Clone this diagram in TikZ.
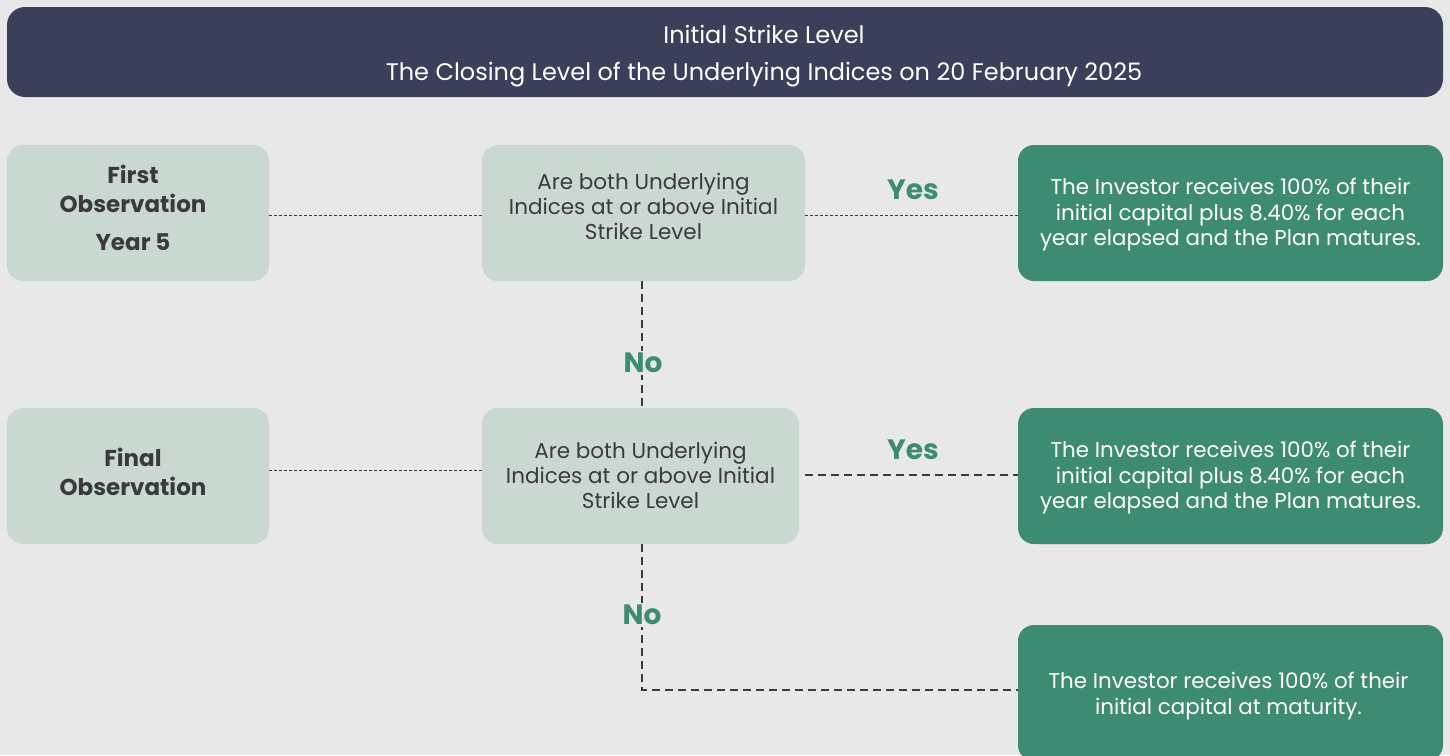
\documentclass[tikz,border=0pt]{standalone}
\usepackage{fontspec}
\setmainfont{Poppins}
\usetikzlibrary{positioning}

\definecolor{bgcol}{HTML}{E8E8E8}
\definecolor{navy}{HTML}{3A4059}
\definecolor{sage}{HTML}{C9D9D1}
\definecolor{teal}{HTML}{3E8B73}
\definecolor{ink}{HTML}{3A3A3A}

\begin{document}
\begin{tikzpicture}[
    x=1pt, y=-1pt,
    header/.style={
        fill=navy,
        rounded corners=18pt,
        minimum width=1436pt,
        minimum height=90pt
    },
    headtext/.style={
        align=center,
        text=white,
        font=\fontsize{24}{37}\selectfont
    },
    stage/.style={
        fill=sage,
        rounded corners=16pt,
        minimum width=262pt,
        minimum height=136pt
    },
    stagetext/.style={
        align=center,
        text=ink,
        font=\fontsize{23}{29}\selectfont\bfseries
    },
    query/.style={
        fill=sage,
        rounded corners=16pt,
        minimum height=136pt
    },
    querytext/.style={
        align=center,
        text=ink,
        font=\fontsize{21.5}{25}\selectfont
    },
    outcome/.style={
        fill=teal,
        rounded corners=16pt,
        minimum width=425pt,
        minimum height=136pt
    },
    outcometext/.style={
        align=center,
        text=white,
        font=\fontsize{21.4}{25.5}\selectfont
    },
    answer/.style={
        fill=bgcol,
        text=teal,
        inner sep=2pt,
        font=\fontsize{28}{30}\selectfont\bfseries
    },
    thinlink/.style={draw=ink, line width=1pt, dash pattern=on 3pt off 2pt},
    boldlink/.style={draw=ink, line width=1.8pt, dash pattern=on 8pt off 5pt}
]
\fill[bgcol] (0,0) rectangle (1450,755);
\useasboundingbox (0,0) rectangle (1450,755);

\node[header, label={[headtext, xshift=39pt, yshift=-4pt]center:{Initial Strike Level\\The Closing Level of the Underlying Indices on 20 February 2025}}] (strike) at (725,52) {};

% first observation row
\node[stage, label={[stagetext, xshift=-5pt, yshift=5pt]center:{First\\Observation\\[9pt]Year 5}}] (first) at (138,213) {};
\node[query, minimum width=323pt, label={[querytext, yshift=7pt]center:{Are both Underlying\\Indices at or above Initial\\Strike Level}}] (test1) at (643.5,213) {};
\node[outcome, label={[outcometext, yshift=-2pt]center:{The Investor receives 100\% of their\\initial capital plus 8.40\% for each\\year elapsed and the Plan matures.}}] (pay1) at (1230.5,213) {};

% final observation row
\node[stage, label={[stagetext, xshift=-5pt, yshift=4pt]center:{Final\\Observation}}] (final) at (138,476) {};
\node[query, minimum width=317pt, label={[querytext, yshift=1pt]center:{Are both Underlying\\Indices at or above Initial\\Strike Level}}] (test2) at (640.5,476) {};
\node[outcome, label={[outcometext, yshift=-2pt]center:{The Investor receives 100\% of their\\initial capital plus 8.40\% for each\\year elapsed and the Plan matures.}}] (pay2) at (1230.5,476) {};

\node[outcome, label={[outcometext, xshift=-2pt, yshift=-3pt]center:{The Investor receives 100\% of their\\initial capital at maturity.}}] (pay3) at (1230.5,693) {};

\draw[thinlink] ([yshift=-2pt]first.east) -- ([yshift=-2pt]test1.west);
\draw[thinlink] ([yshift=-2pt]test1.east) -- ([yshift=-2pt]pay1.west);
\draw[thinlink] ([yshift=6pt]final.east) -- ([yshift=6pt]test2.west);
\draw[boldlink] ([xshift=6pt, yshift=1pt]test2.east) -- ([yshift=1pt]pay2.west);
\draw[boldlink] ([xshift=-1.5pt]test1.south) -- ([xshift=1.5pt]test2.north);
\draw[boldlink] ([xshift=1.5pt]test2.south) |- ([yshift=3pt]pay3.west);

\node[answer] (yes1) at (913,190) {Yes};
\node[answer] (yes2) at (913,450) {Yes};
\node[answer] (no1) at (643,363) {No};
\node[answer] (no2) at (642,615) {No};
\end{tikzpicture}
\end{document}
